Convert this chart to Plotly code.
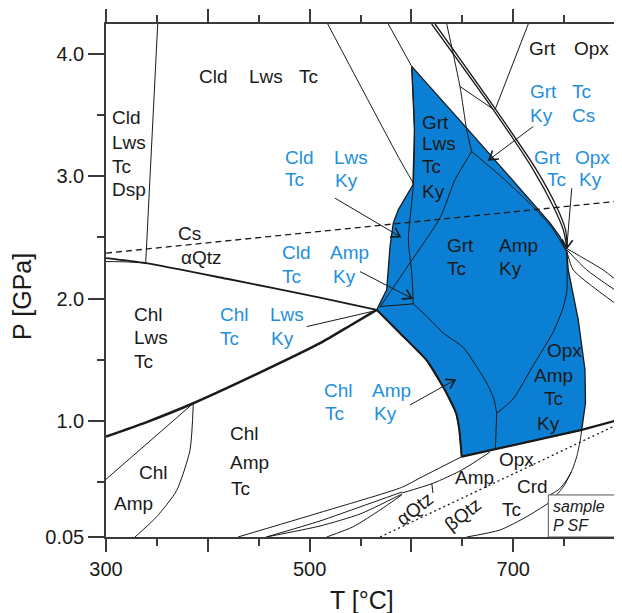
import math
import plotly.graph_objects as go

# ---------------- axes ----------------
T_RANGE = [300, 800]
P_RANGE = [0.05, 4.246]
x_tickvals = [300, 400, 500, 600, 700, 800]
x_ticktext = ["300", "", "500", "", "700", ""]
x_minor = [350, 450, 550, 650, 750]
y_tickvals = [0.05, 1.0, 2.0, 3.0, 4.0]
y_ticktext = ["0.05", "1.0", "2.0", "3.0", "4.0"]
y_minor = [0.5, 1.5, 2.5, 3.5]

# ---------------- blue field (T, P) ----------------
blue_T = [600.3, 628.1, 657.6, 687.0, 716.5, 736.1, 746.0, 752.6, 754.1, 763.9, 770.5, 771.0, 767.3,
          680.5, 649.4, 647.0, 644.0, 633.0, 615.0, 588.8, 565.9, 575.7, 579.0, 582.2, 587.1, 601.5, 603.0, 600.3]
blue_P = [3.899, 3.642, 3.364, 3.086, 2.808, 2.620, 2.505, 2.382, 2.235, 1.826, 1.417, 1.147, 0.926,
          0.765, 0.707, 0.930, 1.060, 1.250, 1.495, 1.717, 1.908, 2.071, 2.426, 2.617, 2.726, 2.930, 3.381, 3.899]

# ---------------- reaction lines (T degC, P GPa) ----------------
dsp_line = [(350.8, 4.246), (339.0, 2.29)]
cs_qtz_dash = [(300, 2.372), (800, 2.794)]
chl_lws_upper = [(300, 2.331), (339.0, 2.29), (420, 2.16), (510.2, 2.008), (565.9, 1.908)]
thin_left = [(300, 2.303), (320.3, 2.300), (339.0, 2.29)]
chl_lws_lower = [(300, 0.871), (340, 0.99), (385.8, 1.144), (450, 1.39), (510.2, 1.635), (540, 1.78), (565.9, 1.908)]
chl_amp_line = [(300, 0.522), (385.8, 1.144)]
chl_amp_curve = [(385.8, 1.144), (382.5, 0.76), (369.4, 0.43), (349.8, 0.216), (328.5, 0.05)]
blue_lowleft = [(565.9, 1.908), (588.8, 1.717), (615.0, 1.495), (633.0, 1.25), (644.0, 1.06), (647.0, 0.93), (649.4, 0.707)]
bottom_thick = [(649.4, 0.707), (767.3, 0.926), (800, 1.0)]
cld_line = [(517.8, 4.246), (588.8, 3.134), (601.9, 2.944)]
top_to_v1 = [(577.3, 4.246), (600.3, 3.899)]
lws_out = [(600.3, 3.899), (603.0, 3.381), (601.9, 2.930), (597.0, 2.480), (600.3, 2.210), (601.9, 1.957)]
j3_tp = [(601.9, 1.957), (569.2, 1.935)]
diag = [(659.2, 3.203), (642.8, 2.971), (628.1, 2.660), (598.6, 2.292), (569.2, 1.932)]
j3_j4 = [(601.9, 1.957), (618, 1.83), (631, 1.72), (651, 1.6), (664, 1.444), (674, 1.31), (681, 1.18), (683.8, 1.062)]
j4_down = [(683.8, 1.062), (682.5, 0.768)]
j4_j2 = [(683.8, 1.062), (700, 1.18), (718, 1.43), (739.4, 1.73), (748, 1.9), (752.6, 2.05), (753, 2.2), (752.6, 2.382)]
inner_j1_j2 = [(659.2, 3.203), (691.9, 2.971), (720.4, 2.742), (738.1, 2.579), (752.6, 2.382)]
top_to_j1 = [(634.7, 4.246), (647.7, 3.735), (654.3, 3.381), (659.2, 3.203)]
short_branch = [(647.7, 3.735), (678.9, 3.558)]
double_a = [(619.9, 4.246), (680.5, 3.544), (719.7, 3.053), (739.4, 2.753), (749.2, 2.562), (752.6, 2.426)]
double_b = [(623.2, 4.246), (683.1, 3.544), (722.9, 3.053), (742.5, 2.753), (751.4, 2.562), (753.2, 2.415)]
grt_opx_line = [(714.8, 4.246), (682.1, 3.544)]
fan_a = [(752.6, 2.41), (788.2, 2.235), (800, 2.16)]
fan_b = [(752.6, 2.40), (772.2, 2.235), (800, 2.07)]
fan_c = [(752.8, 2.385), (759.0, 2.235), (800, 1.962)]
low_l1 = [(429.7, 0.05), (510.2, 0.25), (590.5, 0.456), (608.4, 0.533), (649.4, 0.707)]
low_l2 = [(457.5, 0.05), (510.2, 0.181), (549.5, 0.296), (590.8, 0.418)]
low_l3 = [(457.5, 0.05), (510.2, 0.14), (549.5, 0.238), (590.8, 0.402)]
low_l4 = [(516.8, 0.05), (542.9, 0.134), (569.2, 0.271), (590.5, 0.394)]
lens_cont = [(590.8, 0.41), (621.5, 0.49), (650, 0.6), (677.2, 0.745)]
small_tick = [(620, 0.49), (621.2, 0.41)]
qtz_dotted = [(569.2, 0.05), (800, 0.96)]
crd_curve = [(767.3, 0.926), (765.6, 0.83), (762.4, 0.707), (758, 0.6), (752.6, 0.517), (745, 0.44), (736, 0.394)]
crd_small = [(757, 0.58), (750, 0.47), (742.7, 0.394)]
tc_low = [(654.3, 0.05), (687, 0.107), (713.3, 0.216), (734.5, 0.326)]
sample_box = [734.5, 800, 0.05, 0.394]

# ---------------- arrows (tail, tip) ----------------
arrows = [((524.9, 2.822), (588.8, 2.507)),
          ((549.5, 2.221), (600.3, 2.003)),
          ((598.6, 1.130), (642.8, 1.335)),
          ((719.7, 3.408), (676.2, 3.135)),
          ((757.5, 2.903), (752.6, 2.412))]
plain_pointer = [(497.2, 1.771), (564.2, 1.90)]

# ---------------- labels (text, T at left edge, P at middle) ----------------
black_labels = [
    ("Cld", 389.1, 3.814), ("Lws", 438.2, 3.814), ("Tc", 487.3, 3.814),
    ("Cld", 303.9, 3.479), ("Lws", 303.9, 3.274), ("Tc", 303.9, 3.080), ("Dsp", 303.9, 2.889),
    ("Cs", 368.8, 2.529), ("αQtz", 371.7, 2.337),
    ("Chl", 325.2, 1.867), ("Lws", 325.2, 1.678), ("Tc", 325.2, 1.482),
    ("Chl", 330.2, 0.574), ("Amp", 305.6, 0.328),
    ("Chl", 419.8, 0.893), ("Amp", 419.8, 0.656), ("Tc", 420.8, 0.443),
    ("Grt", 608.4, 3.442), ("Lws", 608.4, 3.266), ("Tc", 608.4, 3.078), ("Ky", 608.4, 2.873),
    ("Grt", 633.0, 2.435), ("Tc", 633.0, 2.243),
    ("Amp", 683.8, 2.435), ("Ky", 683.8, 2.243),
    ("Grt", 713.1, 4.043), ("Opx", 757.5, 4.043),
    ("Opx", 731.2, 1.572), ("Amp", 718.2, 1.368), ("Tc", 727.9, 1.179), ("Ky", 721.2, 0.975),
    ("Opx", 683.8, 0.688), ("Amp", 641.2, 0.533), ("Crd", 701.8, 0.461), ("Tc", 687.0, 0.279),
]
blue_labels = [
    ("Cld", 473.6, 3.151), ("Tc", 473.6, 2.971), ("Lws", 522.3, 3.151), ("Ky", 523.3, 2.963),
    ("Cld", 470.9, 2.374), ("Tc", 470.9, 2.178), ("Amp", 518.4, 2.374), ("Ky", 521.0, 2.178),
    ("Chl", 410.3, 1.867), ("Tc", 410.3, 1.670), ("Lws", 459.4, 1.867), ("Ky", 460.1, 1.670),
    ("Chl", 511.9, 1.245), ("Tc", 513.2, 1.057), ("Amp", 559.3, 1.245), ("Ky", 561.0, 1.057),
    ("Grt", 714.8, 3.691), ("Tc", 755.8, 3.691), ("Ky", 714.8, 3.495), ("Cs", 755.8, 3.495),
    ("Grt", 718.2, 3.151), ("Opx", 759.0, 3.151), ("Tc", 731.2, 2.971), ("Ky", 762.4, 2.971),
]
rotated_labels = [("αQtz", 603.5, 0.287), ("βQtz", 650.7, 0.230)]
sample_labels = [("sample", 737.0, 0.296), ("P SF", 737.0, 0.148)]

FILL = "#0a7fd3"
BLUE_TXT = "#1e90dc"
INK = "#1a1a1a"
FONT = "Arial, Liberation Sans, Helvetica, sans-serif"

fig = go.Figure()
fig.add_trace(go.Scatter(x=blue_T, y=blue_P, fill="toself", fillcolor=FILL, mode="lines",
                         line=dict(color=INK, width=1.3), hoverinfo="skip"))


def add_line(pts, width=1.0, dash="solid", color=INK, shape="spline"):
    fig.add_trace(go.Scatter(x=[p[0] for p in pts], y=[p[1] for p in pts], mode="lines",
                             line=dict(color=color, width=width, dash=dash, shape=shape,
                                       smoothing=0.6 if shape == "spline" else None),
                             hoverinfo="skip"))


for pts in [dsp_line, thin_left, chl_amp_line, chl_amp_curve, cld_line, top_to_v1, lws_out, j3_tp,
            diag, j3_j4, j4_down, j4_j2, inner_j1_j2, top_to_j1, short_branch, grt_opx_line,
            fan_a, fan_b, fan_c, low_l1, low_l2, low_l3, low_l4, lens_cont, small_tick,
            crd_curve, crd_small, tc_low]:
    add_line(pts, width=1.0)
for pts in [double_a, double_b]:
    add_line(pts, width=1.3)
add_line(chl_lws_upper, width=1.9)
add_line(chl_lws_lower, width=2.5)
add_line(blue_lowleft, width=2.0)
add_line(bottom_thick, width=2.2, shape="linear")
add_line(cs_qtz_dash, width=1.3, dash="6px,4px", shape="linear")
add_line(qtz_dotted, width=1.3, dash="2px,3px", shape="linear")

# arrows: shaft + open chevron head computed in pixel space
SX = 509 / (T_RANGE[1] - T_RANGE[0])
SY = 512.4 / (P_RANGE[1] - P_RANGE[0])
HEAD, ANG = 10.0, math.radians(32)
for tail, tip in arrows:
    add_line([tail, tip], width=1.0, shape="linear")
    dx, dy = (tip[0] - tail[0]) * SX, (tip[1] - tail[1]) * SY
    n = math.hypot(dx, dy)
    bx, by = -dx / n, -dy / n
    pts = []
    for s in (1, -1):
        c, si = math.cos(s * ANG), math.sin(s * ANG)
        rx, ry = bx * c - by * si, bx * si + by * c
        pts.append((tip[0] + HEAD * rx / SX, tip[1] + HEAD * ry / SY))
    add_line([pts[0], tip, pts[1]], width=1.6, shape="linear")
add_line(plain_pointer, width=1.0, shape="linear")

fig.add_shape(type="rect", x0=sample_box[0], x1=sample_box[1], y0=sample_box[2], y1=sample_box[3],
              line=dict(color="#555555", width=1), fillcolor="white", layer="above")

ann = []
for txt, t, p in black_labels:
    ann.append(dict(x=t, y=p, text=txt, xanchor="left", yanchor="middle", showarrow=False,
                    font=dict(size=19, color=INK, family=FONT)))
for txt, t, p in blue_labels:
    ann.append(dict(x=t, y=p, text=txt, xanchor="left", yanchor="middle", showarrow=False,
                    font=dict(size=19, color=BLUE_TXT, family=FONT)))
for txt, t, p in rotated_labels:
    ann.append(dict(x=t, y=p, text=txt, xanchor="center", yanchor="middle", showarrow=False,
                    textangle=-38, font=dict(size=19, color=INK, family=FONT)))
for txt, t, p in sample_labels:
    ann.append(dict(x=t, y=p, text="<i>" + txt + "</i>", xanchor="left", yanchor="middle", showarrow=False,
                    font=dict(size=16, color=INK, family=FONT)))
# axis titles
ann.append(dict(xref="paper", yref="paper", x=-0.165, y=0.468, text="P [GPa]", textangle=-90,
                showarrow=False, xanchor="center", yanchor="middle",
                font=dict(size=25, color=INK, family=FONT)))
ann.append(dict(xref="paper", yref="paper", x=0.503, y=-0.1235, text="T [°C]",
                showarrow=False, xanchor="center", yanchor="middle",
                font=dict(size=25, color=INK, family=FONT)))

axis_common = dict(showgrid=False, zeroline=False, showline=True, linecolor="#3a3a3a", linewidth=1.5,
                   mirror="allticks", ticks="outside", tickcolor="#3a3a3a", tickwidth=1.5,
                   automargin=False, tickfont=dict(size=20, color=INK, family=FONT))
fig.update_xaxes(range=T_RANGE, tickmode="array", tickvals=x_tickvals, ticktext=x_ticktext,
                 ticklen=13, minor=dict(tickvals=x_minor, ticklen=7, ticks="outside",
                                        tickcolor="#3a3a3a", tickwidth=1.5), **axis_common)
fig.update_yaxes(range=P_RANGE, tickmode="array", tickvals=y_tickvals, ticktext=y_ticktext,
                 ticklen=16, minor=dict(tickvals=y_minor, ticklen=7, ticks="outside",
                                        tickcolor="#3a3a3a", tickwidth=1.5), **axis_common)
# the page body adds an 8px offset, so the figure is sized to land the plot area where the reference has it
fig.update_layout(width=614, height=605, margin=dict(l=98, r=7, t=16, b=76, autoexpand=False),
                  paper_bgcolor="white", plot_bgcolor="white", showlegend=False,
                  annotations=ann, font=dict(family=FONT))
fig.write_html("out.html")
